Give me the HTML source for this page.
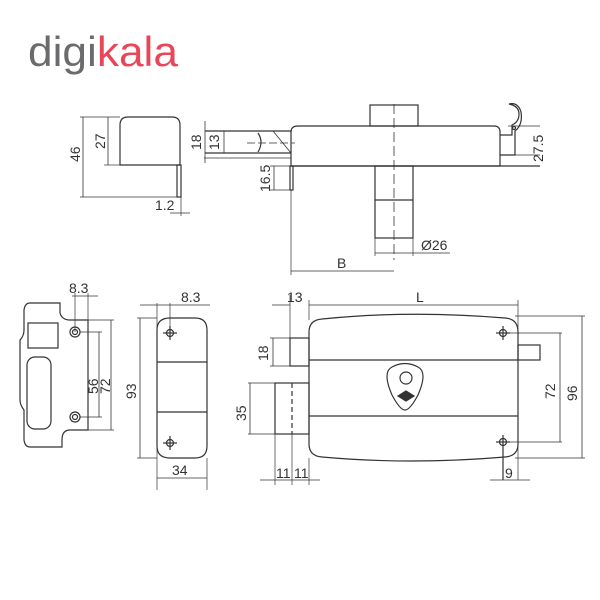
<!DOCTYPE html>
<html><head><meta charset="utf-8"><style>
body{margin:0;background:#fff;width:600px;height:600px;overflow:hidden}
svg{display:block}
text{font-family:"Liberation Sans",sans-serif;fill:#333}
</style></head><body>
<svg width="600" height="600" viewBox="0 0 600 600">
<text x="28" y="66" font-size="42" textLength="150" lengthAdjust="spacingAndGlyphs"><tspan style="fill:#6b6b6d">digi</tspan><tspan style="fill:#e8475a">kala</tspan></text>
<g stroke="#333" stroke-width="1.2" fill="none">
<path d="M120,165 V125 Q120,117 128,117 H172 Q180,117 180,125 V165 Z"/>
<rect x="177" y="165" width="4" height="32"/>
<line x1="80" y1="117" x2="120" y2="117" stroke-width=".7"/>
<line x1="80" y1="197" x2="181" y2="197" stroke-width=".7"/>
<line x1="83" y1="117" x2="83" y2="197" stroke-width=".8"/>
<line x1="108" y1="117" x2="108" y2="165" stroke-width=".8"/>
<line x1="104" y1="165" x2="120" y2="165" stroke-width=".7"/>
<line x1="181" y1="197" x2="181" y2="216" stroke-width=".7"/>
<line x1="170" y1="213" x2="190" y2="213" stroke-width=".8"/>
<path d="M291,166 V132 Q291,126 298,126 H494 Q500,126 500,132 V166 Z"/>
<line x1="291" y1="166" x2="540" y2="166"/>
<rect x="370" y="105" width="48" height="21"/>
<line x1="394" y1="104" x2="394" y2="260" stroke-dasharray="10,4" stroke-width=".8"/>
<rect x="375" y="166" width="38" height="72"/>
<line x1="375" y1="200" x2="413" y2="200"/>
<line x1="205" y1="131" x2="291" y2="131"/>
<line x1="205" y1="153" x2="291" y2="153"/>
<line x1="204" y1="158" x2="291" y2="158" stroke-width=".7"/>
<line x1="205" y1="121" x2="205" y2="163" stroke-width=".8"/>
<line x1="224" y1="131" x2="224" y2="153" stroke-width=".8"/>
<path d="M258,133 Q264,142 258,152"/>
<line x1="247" y1="143" x2="295" y2="143" stroke-dasharray="8,3" stroke-width=".7"/>
<line x1="273" y1="131" x2="291" y2="153" stroke-width=".8"/>
<rect x="290" y="166" width="3" height="24"/>
<line x1="270" y1="166" x2="290" y2="166" stroke-width=".7"/>
<line x1="270" y1="190" x2="290" y2="190" stroke-width=".7"/>
<line x1="274" y1="166" x2="274" y2="190" stroke-width=".8"/>
<line x1="291" y1="190" x2="291" y2="275" stroke-width=".7"/>
<line x1="375" y1="238" x2="375" y2="256" stroke-width=".7"/>
<line x1="413" y1="238" x2="413" y2="256" stroke-width=".7"/>
<line x1="375" y1="253" x2="450" y2="253" stroke-width=".8"/>
<line x1="291" y1="271" x2="394" y2="271" stroke-width=".8"/>
<path d="M500,135 H512 V125 Q519,122 519,114 Q519,106 509,104 Q518,102 521,112 Q523,125 515,131 V155 H500"/>
<circle cx="514" cy="128" r="1.5"/>
<line x1="500" y1="155" x2="540" y2="155" stroke-width=".7"/>
<line x1="508" y1="126" x2="540" y2="126" stroke-width=".7"/>
<path d="M30,303 H60 V313 Q62,320 70,320 H88 V430 H70 Q62,430 62,440 V447 H30 Q25,447 24,440 V410 Q20,405 20,400 V340 Q24,336 24,330 V310 Q25,303 30,303 Z"/>
<rect x="28" y="323" width="30" height="25"/>
<rect x="27" y="357" width="24" height="72" rx="8"/>
<circle cx="75" cy="332" r="5"/><circle cx="75" cy="332" r="2.5"/>
<circle cx="75" cy="417" r="5"/><circle cx="75" cy="417" r="2.5"/>
<line x1="75" y1="293" x2="75" y2="332" stroke-width=".7"/>
<line x1="88" y1="293" x2="88" y2="320" stroke-width=".7"/>
<line x1="72" y1="296" x2="98" y2="296" stroke-width=".8"/>
<line x1="80" y1="320" x2="114" y2="320" stroke-width=".7"/>
<line x1="80" y1="430" x2="114" y2="430" stroke-width=".7"/>
<line x1="80" y1="332" x2="102" y2="332" stroke-width=".7"/>
<line x1="80" y1="417" x2="102" y2="417" stroke-width=".7"/>
<line x1="111" y1="320" x2="111" y2="430" stroke-width=".8"/>
<line x1="99" y1="332" x2="99" y2="417" stroke-width=".8"/>
<path d="M157,330 Q157,318 170,318 H195 Q207,318 207,330 V446 Q207,458 195,458 H170 Q157,458 157,446 Z"/>
<line x1="157" y1="362" x2="207" y2="362"/>
<line x1="157" y1="412" x2="207" y2="412"/>
<circle cx="170" cy="333" r="3.5"/><line x1="163" y1="333" x2="177" y2="333"/><line x1="170" y1="326" x2="170" y2="340"/>
<circle cx="170" cy="443" r="3.5"/><line x1="163" y1="443" x2="177" y2="443"/><line x1="170" y1="436" x2="170" y2="450"/>
<line x1="157" y1="303" x2="157" y2="490" stroke-width=".7"/>
<line x1="170" y1="303" x2="170" y2="326" stroke-width=".7"/>
<line x1="207" y1="458" x2="207" y2="490" stroke-width=".7"/>
<line x1="140" y1="305" x2="210" y2="305" stroke-width=".8"/>
<line x1="137" y1="318" x2="157" y2="318" stroke-width=".7"/>
<line x1="137" y1="458" x2="157" y2="458" stroke-width=".7"/>
<line x1="140" y1="318" x2="140" y2="458" stroke-width=".8"/>
<line x1="157" y1="478" x2="207" y2="478" stroke-width=".8"/>
<path d="M309,332 Q309,320 322,319 Q410,310 505,318 Q518,319 518,332 V444 Q518,456 505,457 Q410,465 322,457 Q309,456 309,444 Z"/>
<line x1="309" y1="360" x2="518" y2="360"/>
<line x1="309" y1="416" x2="518" y2="416"/>
<rect x="290" y="338" width="19" height="28"/>
<rect x="275" y="383" width="34" height="51"/>
<line x1="292" y1="383" x2="292" y2="434" stroke-dasharray="5,3"/>
<rect x="518" y="345" width="22" height="15"/>
<path d="M392,367 Q405,360 418,367 Q428,372 418,395 Q410,410 405,410 Q400,410 392,395 Q382,372 392,367 Z"/>
<circle cx="406" cy="378" r="6"/>
<path d="M398,396 L406,391 L414,396 L406,401 Z" fill="#333"/>
<circle cx="503" cy="333" r="3.5"/><line x1="496" y1="333" x2="510" y2="333"/><line x1="503" y1="326" x2="503" y2="340"/>
<circle cx="503" cy="442" r="3.5"/><line x1="496" y1="442" x2="510" y2="442"/><line x1="503" y1="435" x2="503" y2="480"/>
<line x1="309" y1="300" x2="309" y2="320" stroke-width=".7"/>
<line x1="518" y1="300" x2="518" y2="480" stroke-width=".7"/>
<line x1="309" y1="305" x2="518" y2="305" stroke-width=".8"/>
<line x1="272" y1="305" x2="290" y2="305" stroke-width=".8"/>
<line x1="290" y1="295" x2="290" y2="338" stroke-width=".7"/>
<line x1="270" y1="338" x2="290" y2="338" stroke-width=".7"/>
<line x1="270" y1="366" x2="290" y2="366" stroke-width=".7"/>
<line x1="273" y1="338" x2="273" y2="366" stroke-width=".8"/>
<line x1="248" y1="383" x2="275" y2="383" stroke-width=".7"/>
<line x1="248" y1="434" x2="275" y2="434" stroke-width=".7"/>
<line x1="250" y1="383" x2="250" y2="434" stroke-width=".8"/>
<line x1="275" y1="434" x2="275" y2="485" stroke-width=".7"/>
<line x1="292" y1="434" x2="292" y2="485" stroke-width=".7"/>
<line x1="309" y1="458" x2="309" y2="485" stroke-width=".7"/>
<line x1="260" y1="480" x2="320" y2="480" stroke-width=".8"/>
<line x1="490" y1="480" x2="530" y2="480" stroke-width=".8"/>
<line x1="510" y1="333" x2="562" y2="333" stroke-width=".7"/>
<line x1="510" y1="442" x2="562" y2="442" stroke-width=".7"/>
<line x1="515" y1="316" x2="585" y2="316" stroke-width=".7"/>
<line x1="515" y1="458" x2="585" y2="458" stroke-width=".7"/>
<line x1="560" y1="333" x2="560" y2="442" stroke-width=".8"/>
<line x1="582" y1="316" x2="582" y2="458" stroke-width=".8"/>
</g>
<g font-size="14">
<text transform="translate(80,162) rotate(-90)">46</text>
<text transform="translate(105,149) rotate(-90)">27</text>
<text x="155" y="210">1.2</text>
<text transform="translate(201,150) rotate(-90)">18</text>
<text transform="translate(219,150) rotate(-90)">13</text>
<text transform="translate(270,192) rotate(-90)">16.5</text>
<text transform="translate(543,162) rotate(-90)">27.5</text>
<text x="421" y="250">Ø26</text>
<text x="337" y="268">B</text>
<text x="69" y="293">8.3</text>
<text x="181" y="302">8.3</text>
<text transform="translate(98,394) rotate(-90)">56</text>
<text transform="translate(110,394) rotate(-90)">72</text>
<text transform="translate(136,399) rotate(-90)">93</text>
<text x="172" y="475">34</text>
<text x="287" y="302">13</text>
<text x="416" y="302">L</text>
<text transform="translate(268,361) rotate(-90)">18</text>
<text transform="translate(246,421) rotate(-90)">35</text>
<text transform="translate(555,399) rotate(-90)">72</text>
<text transform="translate(577,401) rotate(-90)">96</text>
<text x="276" y="478">11</text>
<text x="294" y="478">11</text>
<text x="505" y="478">9</text>
</g>
</svg>
</body></html>
